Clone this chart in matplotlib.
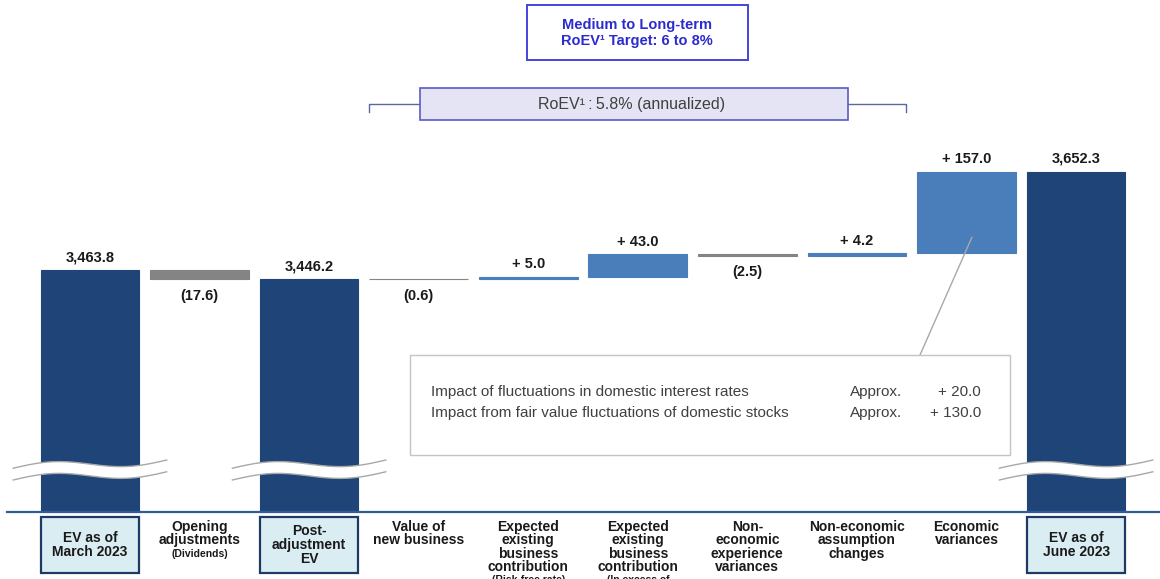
import numpy as np
import matplotlib
matplotlib.use("Agg")
import matplotlib.pyplot as plt
from matplotlib import font_manager
from matplotlib.patches import Rectangle, Polygon
from matplotlib.transforms import blended_transform_factory

# ---- data -------------------------------------------------------------
categories = [
    "EV as of\nMarch 2023",
    "Opening\nadjustments",
    "Post-\nadjustment\nEV",
    "Value of\nnew business",
    "Expected\nexisting\nbusiness\ncontribution",
    "Expected\nexisting\nbusiness\ncontribution",
    "Non-\neconomic\nexperience\nvariances",
    "Non-economic\nassumption\nchanges",
    "Economic\nvariances",
    "EV as of\nJune 2023",
]
category_notes = ["", "(Dividends)", "", "", "(Risk-free rate)",
                  "(In excess of\nrisk-free rate)", "", "", "", ""]
bar_kinds = ["total", "delta", "total", "delta", "delta",
             "delta", "delta", "delta", "delta", "total"]
values = [3463.8, -17.6, 3446.2, -0.6, 5.0, 43.0, -2.5, 4.2, 157.0, 3652.3]
value_labels = ["3,463.8", "(17.6)", "3,446.2", "(0.6)", "+ 5.0",
                "+ 43.0", "(2.5)", "+ 4.2", "+ 157.0", "3,652.3"]

target_text = "Medium to Long-term\nRoEV\u00b9 Target: 6 to 8%"
roev_text = "RoEV\u00b9\u2009:\u20095.8% (annualized)"
roev_span = (3, 7)          # categories covered by the RoEV bracket
detail_desc = ["Impact of fluctuations in domestic interest rates",
               "Impact from fair value fluctuations of domestic stocks"]
detail_approx = ["Approx.", "Approx."]
detail_values = ["+ 20.0", "+ 130.0"]
detail_target = 8           # bar explained by the detail box

# ---- style -------------------------------------------------------------
NAVY = "#1f4478"
POS = "#4a7ebb"
NEG = "#848484"
TXT = "#1a1a1a"
FONT = "Liberation Sans"
names = {f.name for f in font_manager.fontManager.ttflist}
NARROW = "Liberation Sans Narrow" if "Liberation Sans Narrow" in names else FONT
plt.rcParams["font.family"] = [FONT, "DejaVu Sans"]

W, H = 1160, 579
fig = plt.figure(figsize=(W / 100, H / 100), dpi=100)
base_px = 512                       # baseline row, pixels from top
ax = fig.add_axes([0, (H - base_px) / H, 1, base_px / H])
floor = 3000.0
ax.set_ylim(floor, 3981)
ax.set_xlim(-0.821, 9.766)
ax.axis("off")

def ax_y(px):
    """axes fraction for a pixel row measured from the top of the figure"""
    return (base_px - px) / base_px

def fx(px):
    return px / W

def fy(px):
    return 1 - px / H

bx = blended_transform_factory(ax.transData, ax.transAxes)
bfig = blended_transform_factory(ax.transData, fig.transFigure)

# ---- bars --------------------------------------------------------------
width = 0.9
running = 0.0
tops = []
for i, (kind, v) in enumerate(zip(bar_kinds, values)):
    if kind == "total":
        bottom, height, color = floor, v - floor, NAVY
        running = v
    else:
        bottom = running + min(v, 0)
        height = abs(v)
        color = POS if v > 0 else NEG
        running += v
    tops.append((bottom, bottom + height))
    ax.bar(i, height, bottom=bottom, width=width, color=color,
           edgecolor=color, linewidth=0.8, zorder=2)
    if kind == "total" or v > 0:
        ax.annotate(value_labels[i], (i, bottom + height), xytext=(0, 4),
                    textcoords="offset points", ha="center", va="bottom",
                    fontsize=10.5, fontweight="bold", color=TXT)
    else:
        ax.annotate(value_labels[i], (i, bottom), xytext=(0, -7),
                    textcoords="offset points", ha="center", va="top",
                    fontsize=10.5, fontweight="bold", color=TXT)

# ---- axis break marks on the total bars --------------------------------
t = np.linspace(0, 1, 80)
for i, kind in enumerate(bar_kinds):
    if kind != "total":
        continue
    xs = i - 0.70 + 1.40 * t
    mid = ax_y(470) + 0.0085 * np.sin(2 * np.pi * t) + 0.016 * (t - 0.5)
    upper = mid + 0.0115
    lower = mid - 0.0115
    poly = Polygon(np.column_stack([np.r_[xs, xs[::-1]], np.r_[upper, lower[::-1]]]),
                   closed=True, facecolor="white", edgecolor="none",
                   transform=bx, zorder=4)
    ax.add_patch(poly)
    ax.plot(xs, upper, color="#a8a8a8", lw=1.0, transform=bx, zorder=5)
    ax.plot(xs, lower, color="#a8a8a8", lw=1.0, transform=bx, zorder=5)

# ---- baseline ---------------------------------------------------------
ax.plot([fx(7), 1], [0, 0], color="#2f5d99", lw=1.6, transform=ax.transAxes,
        clip_on=False, zorder=3)

# ---- category labels --------------------------------------------------
line_h = 12.7
for i, (lab, note, kind) in enumerate(zip(categories, category_notes, bar_kinds)):
    if kind == "total":
        box = Rectangle((i - width / 2, ax_y(573)), width, ax_y(517) - ax_y(573),
                        transform=bx, facecolor="#d9edf3", edgecolor="#1f3864",
                        lw=1.6, clip_on=False, zorder=3)
        ax.add_patch(box)
        ax.text(i, ax_y(545), lab, transform=bx, ha="center", va="center",
                fontsize=10, fontweight="bold", family=[NARROW, FONT],
                color=TXT, linespacing=1.0)
    else:
        top = 520
        ax.text(i, ax_y(top), lab, transform=bx, ha="center", va="top",
                fontsize=10, fontweight="bold", family=[NARROW, FONT],
                color=TXT, linespacing=0.95)
        if note:
            n = lab.count("\n") + 1
            ax.text(i, ax_y(top + n * line_h + 4), note, transform=bx,
                    ha="center", va="top", fontsize=7.5, fontweight="bold",
                    family=[NARROW, FONT], color=TXT, linespacing=0.95)

# ---- target box -------------------------------------------------------
fig.patches.append(Rectangle((fx(527), fy(60)), fx(748) - fx(527), fy(5) - fy(60),
                             transform=fig.transFigure, facecolor="white",
                             edgecolor="#4444dd", lw=1.4))
fig.text(fx(637), fy(33), target_text, ha="center", va="center",
         fontsize=10.5, fontweight="bold", color="#2b2bd0", linespacing=1.15)

# ---- RoEV bracket -----------------------------------------------------
xl = roev_span[0] - width / 2
xr = roev_span[1] + width / 2
ax.plot([xl, xl, xr, xr], [fy(112), fy(104), fy(104), fy(112)], transform=bfig,
        color="#5a6aa0", lw=1.0, clip_on=False, zorder=1)
fig.patches.append(Rectangle((fx(420), fy(120)), fx(848) - fx(420), fy(88) - fy(120),
                             transform=fig.transFigure, facecolor="#e4e4f4",
                             edgecolor="#5a5ac8", lw=1.2, zorder=2))
fig.text(fx(632), fy(104), roev_text, ha="center", va="center",
         fontsize=11.5, color="#404040", zorder=3)

# ---- detail box for economic variances --------------------------------
fig.patches.append(Rectangle((fx(410), fy(455)), fx(1010) - fx(410), fy(355) - fy(455),
                             transform=fig.transFigure, facecolor="white",
                             edgecolor="#c4c4c4", lw=1.0, zorder=1))
b, tp = tops[detail_target]
ax.annotate("", xy=(detail_target + 0.05, b + 0.2 * (tp - b)), xycoords="data",
            xytext=(fx(920), fy(355)), textcoords="figure fraction",
            arrowprops=dict(arrowstyle="-", color="#a8a8a8", lw=1.0,
                            shrinkA=0, shrinkB=0), zorder=6)
for k, (d, a, v) in enumerate(zip(detail_desc, detail_approx, detail_values)):
    y = fy(392 + k * 21)
    fig.text(fx(431), y, d, ha="left", va="center", fontsize=11, color="#404040")
    fig.text(fx(850), y, a, ha="left", va="center", fontsize=11, color="#404040")
    fig.text(fx(981), y, v, ha="right", va="center", fontsize=11, color="#404040")

fig.savefig("out.png", dpi=100, facecolor="white")
